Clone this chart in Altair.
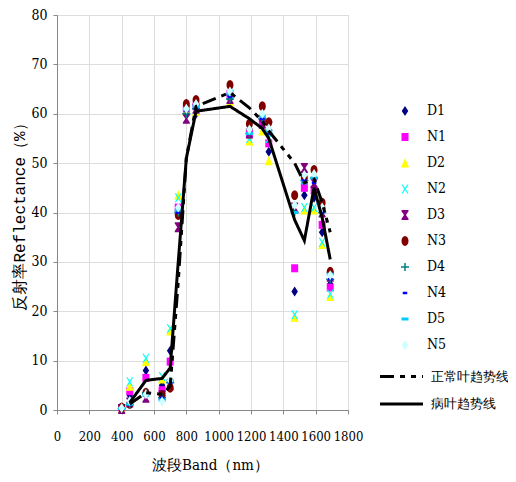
import altair as alt
import pandas as pd

bands = [400, 450, 550, 650, 700, 750, 800, 860, 1070, 1190, 1270, 1310, 1470, 1530, 1590, 1640, 1690]
names = ["D1", "N1", "D2", "N2", "D3", "N3", "D4", "N4", "D5", "N5"]

D1 = [0.3, 3.0, 8.0, 5.0, 12.0, 40.0, 60.0, 60.0, 63.0, 55.5, 57.5, 52.3, 24.0, 43.5, 43.0, 36.0, 25.5]
N1 = [0.4, 3.8, 6.5, 4.0, 9.8, 41.0, 61.0, 61.5, 64.0, 56.0, 58.5, 54.0, 28.7, 45.0, 44.5, 37.5, 24.8]
D2 = [0.2, 4.8, 9.8, 6.3, 16.0, 43.5, 60.5, 60.5, 62.5, 54.5, 56.5, 50.5, 18.8, 40.5, 40.5, 33.5, 23.0]
N2 = [0.3, 5.7, 10.5, 6.8, 16.5, 43.0, 61.5, 61.0, 64.0, 55.0, 58.0, 55.0, 19.3, 41.0, 41.0, 34.0, 23.5]
D3 = [0.2, 1.5, 2.5, 3.0, 5.0, 37.0, 59.0, 61.0, 63.0, 56.0, 58.0, 57.5, 41.0, 49.0, 46.0, 40.0, 27.0]
N3 = [0.5, 1.2, 3.5, 3.0, 4.5, 39.5, 62.0, 62.8, 65.8, 58.0, 61.5, 58.3, 43.5, 47.0, 48.6, 42.0, 28.0]
D4 = [0.3, 1.0, 3.5, 2.5, 5.5, 40.0, 60.0, 61.0, 63.0, 56.0, 59.0, 56.0, 40.0, 46.5, 47.0, 40.0, 26.5]
N4 = [0.3, 1.0, 3.0, 2.5, 5.5, 40.0, 60.5, 61.0, 63.5, 56.0, 59.0, 56.0, 40.0, 46.5, 46.0, 40.0, 26.5]
D5 = [0.3, 1.2, 3.0, 2.0, 6.0, 40.5, 61.0, 61.5, 64.0, 56.0, 59.5, 56.5, 40.0, 46.0, 47.0, 41.0, 27.5]
N5 = [0.4, 1.8, 3.2, 1.7, 6.0, 41.0, 61.0, 62.0, 64.5, 56.8, 60.0, 57.0, 41.5, 47.6, 47.8, 41.0, 27.3]
series_values = [D1, N1, D2, N2, D3, N3, D4, N4, D5, N5]

trend_bands = [450, 550, 650, 700, 750, 800, 860, 1070, 1190, 1270, 1310, 1470, 1530, 1590, 1640, 1690]
normal_trend = [1.2, 3.5, 3.2, 4.8, 26.0, 51.0, 61.5, 64.3, 61.2, 58.5, 56.5, 50.0, 46.0, 46.8, 42.0, 36.0]
disease_trend = [1.5, 6.0, 6.4, 8.5, 30.0, 51.0, 60.5, 61.5, 59.0, 57.0, 55.0, 38.5, 34.3, 45.0, 39.0, 30.5]
trend_names = ["正常叶趋势线", "病叶趋势线"]

colors = ["#000080", "#FF00FF", "#FFFF00", "#00FFFF", "#800080",
          "#800000", "#008080", "#0000FF", "#00CCFF", "#CCFFFF"]
shapes = [
    "M0,-1L0.65,0L0,1L-0.65,0Z",
    "M-0.7,-0.8L0.7,-0.8L0.7,0.8L-0.7,0.8Z",
    "M0,-1L0.8,0.9L-0.8,0.9Z",
    "M-0.7,-0.9L-0.45,-0.9L0,-0.2L0.45,-0.9L0.7,-0.9L0.15,0L0.7,0.9L0.45,0.9L0,0.2L-0.45,0.9L-0.7,0.9L-0.15,0Z",
    "M-0.7,-1L0.7,-1L0.7,-0.75L0.2,0L0.7,0.75L0.7,1L-0.7,1L-0.7,0.75L-0.2,0L-0.7,-0.75Z",
    "M0,-1A0.7,1 0 1,1 0,1A0.7,1 0 1,1 0,-1Z",
    "M-0.15,-0.8L0.15,-0.8L0.15,-0.15L0.8,-0.15L0.8,0.15L0.15,0.15L0.15,0.8L-0.15,0.8L-0.15,0.15L-0.8,0.15L-0.8,-0.15L-0.15,-0.15Z",
    "M-0.45,-0.25L0.45,-0.25L0.45,0.25L-0.45,0.25Z",
    "M-0.7,-0.3L0.7,-0.3L0.7,0.3L-0.7,0.3Z",
    "M0,-1L0.65,0L0,1L-0.65,0Z",
]

rows = []
for i, (nm, vals) in enumerate(zip(names, series_values)):
    for b, v in zip(bands, vals):
        rows.append({"band": b, "value": v, "series": nm, "idx": i})
pdf = pd.DataFrame(rows)

trows = []
for tn, vals in zip(trend_names, [normal_trend, disease_trend]):
    for b, v in zip(trend_bands, vals):
        trows.append({"band": b, "value": v, "trend": tn})
tdf = pd.DataFrame(trows)

LFONT = "DejaVu Serif Condensed"

xaxis = alt.Axis(values=list(range(0, 1801, 200)), format="d", labelOverlap=False, labelFlush=False,
                 title="波段Band（nm）",
                 titleFontSize=15, titleFont=LFONT, titleFontWeight="normal",
                 titlePadding=14, titleX=153,
                 labelFontSize=13, labelPadding=16, tickSize=4, labelFont=LFONT)
yaxis = alt.Axis(values=list(range(0, 81, 10)), labelOverlap=False, labelFlush=False,
                 title="反射率Reflectance（%）",
                 titleFontSize=16, titleFont="Liberation Mono",
                 titleFontWeight="normal", titlePadding=3,
                 labelFontSize=14, labelPadding=6, tickSize=4, labelFont=LFONT)
xscale = alt.Scale(domain=[0, 1800], nice=False)
yscale = alt.Scale(domain=[0, 80], nice=False)

mleg = alt.Legend(orient="none", legendX=341, legendY=89, title=None,
                  labelFont=LFONT, labelFontSize=14, symbolSize=100,
                  symbolStrokeWidth=0, rowPadding=12, labelOffset=15)

points = alt.Chart(pdf).mark_point(filled=True, opacity=1, size=100).encode(
    x=alt.X("band:Q", scale=xscale, axis=xaxis),
    y=alt.Y("value:Q", scale=yscale, axis=yaxis),
    color=alt.Color("series:N", scale=alt.Scale(domain=names, range=colors), legend=mleg),
    shape=alt.Shape("series:N", scale=alt.Scale(domain=names, range=shapes), legend=mleg),
    order=alt.Order("idx:Q"),
)

lleg = alt.Legend(orient="none", legendX=338, legendY=355, title=None,
                  labelFont=LFONT, labelFontSize=13, symbolSize=100,
                  symbolType="M-4.3,0L4.3,0", symbolStrokeWidth=3, symbolStrokeColor="black",
                  rowPadding=13.5, labelOffset=23, labelLimit=200)

lines = alt.Chart(tdf).mark_line(color="black", strokeWidth=3).encode(
    x=alt.X("band:Q", scale=xscale, axis=xaxis),
    y=alt.Y("value:Q", scale=yscale, axis=yaxis),
    strokeDash=alt.StrokeDash("trend:N", scale=alt.Scale(domain=trend_names,
                              range=[[14, 6, 5, 6, 5, 6], [1, 0]]), legend=lleg),
)

chart = alt.layer(points, lines).properties(
    width=291, height=395,
    autosize=alt.AutoSizeParams(type="none"),
    padding={"left": 49, "top": 7, "right": 160, "bottom": 64},
).configure_view(stroke=None).configure_axis(
    grid=False, domainColor="black", tickColor="black", labelColor="black", titleColor="black",
    domainWidth=1.5, labelOverlap=False,
).configure(background="white", font=LFONT)

chart.save("out.html", embed_options={"renderer": "svg", "actions": False})
